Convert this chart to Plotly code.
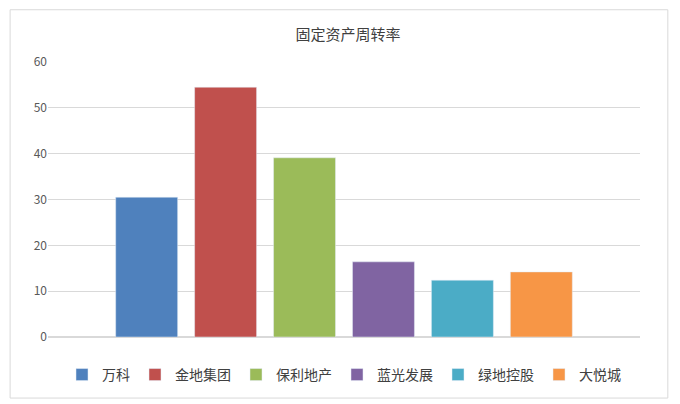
import plotly.graph_objects as go

companies = ["万科", "金地集团", "保利地产", "蓝光发展", "绿地控股", "大悦城"]
values = [30.5, 54.5, 39.1, 16.4, 12.4, 14.2]
colors = ["#4F81BD", "#C0504D", "#9BBB59", "#8064A2", "#4BACC6", "#F79646"]

fig = go.Figure()
for name, v, c in zip(companies, values, colors):
    fig.add_trace(go.Bar(x=["固定资产周转率"], y=[v], name=name, marker_color=c))

font = "Noto Sans CJK SC, sans-serif"
fig.update_layout(
    width=680, height=404,
    margin=dict(l=40, r=48, t=54, b=75),
    paper_bgcolor="white", plot_bgcolor="white",
    title=dict(text="固定资产周转率", x=0.5, xanchor="center", y=0.935, yanchor="middle",
               font=dict(family=font, size=15, color="#404040")),
    bargap=0.2, bargroupgap=0.215,
    showlegend=True,
    legend=dict(orientation="h", x=0.5, xanchor="center", y=-0.138, yanchor="middle",
                itemwidth=30, font=dict(family=font, size=14, color="#404040"), traceorder="normal"),
    font=dict(family=font, color="#595959"),
)
fig.update_xaxes(showticklabels=False, showgrid=False, showline=False, zeroline=False)
fig.update_yaxes(range=[0, 60], dtick=10, showgrid=True, gridcolor="#D9D9D9", gridwidth=1,
                 zeroline=True, zerolinecolor="#D9D9D9", showline=False,
                 tickfont=dict(family=font, size=12, color="#595959"), ticks="", ticklen=0)
fig.add_shape(type="rect", xref="paper", yref="paper", x0=-0.064, x1=1.047, y0=-0.222, y1=1.19,
              line=dict(color="#D9D9D9", width=1), fillcolor="rgba(0,0,0,0)", layer="below")
fig.write_html("out.html")
